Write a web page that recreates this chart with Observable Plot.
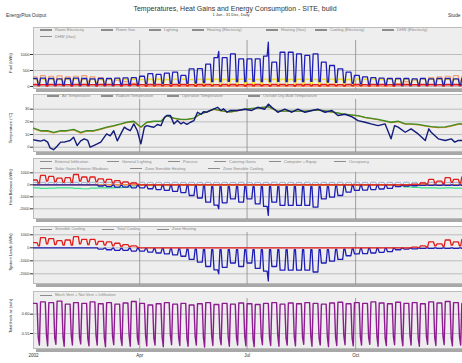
<!DOCTYPE html>
<html><head><meta charset="utf-8">
<script src="https://cdn.jsdelivr.net/npm/d3@7"></script>
<script src="https://cdn.jsdelivr.net/npm/@observablehq/plot@0.6"></script>
<style>
body{margin:0;width:462px;height:363px;overflow:hidden;background:#fff;position:relative;font-family:"Liberation Sans",Arial,sans-serif;color:#333}
.t{position:absolute;white-space:nowrap}
.panel{position:absolute;left:33px;width:440px;background:#eeeeee;border:1px solid #bcbcbc;box-sizing:border-box}
.shadow{position:absolute;left:36px;width:440px;height:3px;background:#a8a8a8}
.leg{position:absolute;font-size:4px;line-height:4px;color:#888;white-space:nowrap}
.legline{position:absolute;height:1.2px;background:#8c8c8c}
.ytitle{position:absolute;font-size:4px;line-height:4px;color:#222;white-space:nowrap;transform:translate(-50%,-50%) rotate(-90deg)}
</style></head>
<body>
<div class="t" style="left:0;width:470px;text-align:center;top:5px;font-size:7px;line-height:7px;color:#333">Temperatures, Heat Gains and Energy Consumption - SITE, build</div>
<div class="t" style="left:0;width:462px;text-align:center;top:12.5px;font-size:4px;line-height:4px">1 Jan - 31 Dec, Daily</div>
<div class="t" style="left:6px;top:13px;font-size:4.8px;line-height:5px">EnergyPlus Output</div>
<div class="t" style="left:448px;top:13px;font-size:4.8px;line-height:5px">Stude</div>
<script>
// ---------- DATA ----------
const year = 2002;
const quarterTicks = ["2002-01-01","2002-04-01","2002-07-01","2002-10-01"];
const quarterLabels = ["2002","Apr","Jul","Oct"];

// Panel 1: Fuel (kWh) — weekly weekday / weekend levels (53 weeks, Mon-Sun; week 0 = 1-6 Jan)
const coolFuelWd = [250,260,250,240,250,260,250,240,250,250,260,270,280,
  320,400,380,420,450,350,550,560,700,900,900,1020,
  865,865,865,950,760,1070,1070,1020,970,1020,760,656,550,450,
  350,300,280,260,250,250,250,240,250,240,250,250,240,250];
const coolFuelWe = [60,70,60,60,65,60,60,70,60,60,65,70,70,
  80,80,90,90,100,100,110,120,
  150,150,160,150,150,160,150,150,160,150,150,150,160,150,140,130,120,100,
  80,70,70,70,60,60,60,60,60,60,60,60,60,60];
const coolFuelPeaks = [["2002-06-07",1094],["2002-07-19",1385]];
const lightWd = [230,225,230,220,230,235,225,230,220,225,230,220,225,220,230,225,220,230,225,220,230,225,230,220,225,230,225,220,230,225,230,220,225,230,220,225,230,225,220,230,225,230,220,225,230,225,220,230,225,230,225,220,230];
const lightWe = [40,45,40,40,45,40,40,45,40,40,45,40,40,45,40,40,45,40,40,45,40,40,45,40,40,45,40,40,45,40,40,45,40,40,45,40,40,45,40,40,45,40,40,45,40,40,45,40,40,45,40,40,45];
const roomElecWd = [60,55,60,60,55,60,60,55,60,60,55,60,60,55,60,60,55,60,60,55,60,60,55,60,60,55,60,60,55,60,60,55,60,60,55,60,60,55,60,60,55,60,60,55,60,60,55,60,60,55,60,60,55];
const roomElecWe = [25,20,25,25,20,25,25,20,25,25,20,25,25,20,25,25,20,25,25,20,25,25,20,25,25,20,25,25,20,25,25,20,25,25,20,25,25,20,25,25,20,25,25,20,25,25,20,25,25,20,25,25,20];
const heatFuelWd = [300,340,320,330,300,320,340,300,280,250,200,150,100,
  0,0,0,0,0,0,0,0,0,0,0,0,0,0,0,0,0,0,0,0,0,0,0,0,0,0,0,0,0,0,0,
  80,150,200,250,280,300,320,340,320];
const heatFuelWe = [120,150,140,130,120,130,150,120,100,90,70,50,30,
  0,0,0,0,0,0,0,0,0,0,0,0,0,0,0,0,0,0,0,0,0,0,0,0,0,0,0,0,0,0,0,
  30,60,80,100,110,120,130,140,130];

// Panel 2: Temperatures (°C) — readings at day-of-year
const outsideDays = [0,3,6,9,12,14,17,20,23,26,29,31,34,37,40,43,46,48,51,54,57,60,62,65,68,71,74,77,79,82,85,88,91,94,96,99,102,105,108,111,113,116,119,122,125,127,130,133,136,139,142,144,147,150,153,156,159,161,164,167,
  173,179,185,190,196,199,202,207,213,219,224,230,236,241,247,253,258,264,270,275,281,286,292,298,303,306,309,315,320,326,332,335,337,343,349,354,357,360,363];
const outsideTemp = [5.8,5.3,4.8,5.8,4,-0.5,-2,0.7,4,4,4.8,5.3,7.9,1.3,5,6.6,5.3,0,1.3,2.6,4,8,10.5,9,13,5,10.5,15.8,14.5,13,18.4,13,2.6,15.8,17,16.3,15.8,17.9,17,23.6,25,25,18.4,21,18.4,19.7,18,19.7,21,27.6,26,28,27.6,29,30.3,31.5,29,30.3,27.6,29,
  29,30,29,31.5,30,34,31.5,27.6,30,27.6,30,27.6,29,30,27.6,29,25,26,24,21,19.7,18.4,17,18.4,6.6,17,15.8,11.8,14.5,10.5,5.3,14.5,11.8,6.6,5.3,6.6,4,5.3,5.3];
const insideDays = [0,6,12,17,23,28,34,40,45,51,57,62,68,74,79,85,91,96,102,108,113,119,125,130,136,141,147,153,158,164,168,179,190,199,207,219,230,241,252,258,264,269,275,281,292,303,309,315,320,326,332,337,343,349,354,360,364];
const airTemp = [15,13,13,11.7,13,13,14,11.7,13,13,14.5,15.8,17,18.4,19.7,20.5,16,19.7,20.5,20.5,25,23,22,22,23,26,28,30,29,28,28,30,31,32,28.5,28.5,28.5,29.5,28,27,26,25.5,25,23.6,22,19.7,20.5,18.4,18.4,18,17,16.3,15.8,16,17,18.4,18.4];
const radiantTemp = [14.6,12.6,12.5,11.2,12.6,12.6,13.6,11.1,12.6,12.6,14.1,15.5,16.7,18.1,19.4,20.2,15.5,19.4,20.3,20.3,24.8,22.8,21.8,21.8,22.8,25.8,27.9,29.9,28.9,27.9,27.9,29.9,30.9,31.8,28.4,28.4,28.4,29.3,27.9,26.8,25.8,25.3,24.8,23.4,21.7,19.4,20.2,18.1,18.1,17.7,16.7,16,15.4,15.6,16.6,18,18];

// Panel 3: Heat balance (kWh) — weekly weekday / weekend levels
const heatSensWd = [400,780,700,550,600,860,650,650,500,450,350,250,150,
  0,0,0,0,0,0,0,0,0,0,0,0,0,0,0,0,0,0,0,0,0,0,0,0,0,0,0,0,0,
  0,0,0,0,50,150,450,300,600,450,650,900];
const heatSensWe = [150,300,250,200,200,300,250,250,200,150,100,80,40,
  0,0,0,0,0,0,0,0,0,0,0,0,0,0,0,0,0,0,0,0,0,0,0,0,0,0,0,0,0,
  0,0,0,0,20,60,150,120,200,150,220,300];
const infiltration = [-250,-300,-280,-260,-250,-300,-330,-280,-260,-250,-230,-200,-100,
  0,0,0,0,0,0,0,0,0,0,0,0,0,0,0,0,0,0,0,0,0,0,0,0,0,0,0,0,0,0,0,
  -100,-180,-220,-250,-260,-280,-250,-270,-280];
const sensCoolWd = [0,0,0,0,0,0,0,0,
  -100,-150,-200,-200,-250,-250,-330,-400,-470,-550,-650,-890,-1100,-1440,-1700,-1500,-1170,-1440,-1170,-1590,-1800,-1440,-1720,-1720,-1720,-1720,-1860,-1170,-1030,-890,-610,-470,-450,-400,-350,-300,-150,-100,-80,
  -50,-50,-50,-50,-50,-50];
const sensCoolWe = [0,0,0,0,0,0,0,0,
  -30,-30,-40,-40,-50,-50,-60,-60,-80,-80,-100,-100,-120,-150,-150,-150,-150,-150,-150,-150,-150,-150,-150,-150,-150,-150,-150,-150,-120,-100,-80,-60,-50,-50,-40,-40,-30,-30,-20,
  -10,-10,-10,-10,-10,-10];
const sensCoolPeaks = [["2002-06-07",-2000],["2002-07-19",-2550]];
const equipWd = [200,210,200,205,200,210,200,205,200,210,200,205,200,210,200,205,200,210,200,205,200,210,200,205,200,210,200,205,200,210,200,205,200,210,200,205,200,210,200,205,200,210,200,205,200,210,200,205,200,210,200,205,200];
const equipWe = [0,0,0,0,0,0,0,0,0,0,0,0,0,0,0,0,0,0,0,0,0,0,0,0,0,0,0,0,0,0,0,0,0,0,0,0,0,0,0,0,0,0,0,0,0,0,0,0,0,0,0,0,0];

// Panel 5: Total fresh air (ach) — weekly weekday / Saturday / Sunday levels
const achWd = [0.628,0.632,0.630,0.634,0.626,0.630,0.628,0.632,0.627,0.630,0.626,0.629,0.633,0.628,0.624,0.627,0.630,0.626,0.628,0.624,0.627,0.630,0.625,0.628,0.626,0.629,0.627,0.625,0.628,0.630,0.626,0.629,0.627,0.630,0.628,0.626,0.629,0.631,0.627,0.630,0.628,0.632,0.629,0.627,0.631,0.628,0.630,0.627,0.632,0.629,0.633,0.630,0.628];
const achSat = [0.540,0.545,0.538,0.542,0.545,0.540,0.538,0.544,0.540,0.542,0.538,0.545,0.540,0.543,0.538,0.541,0.545,0.540,0.538,0.542,0.540,0.544,0.538,0.541,0.540,0.543,0.538,0.542,0.540,0.545,0.538,0.541,0.540,0.543,0.538,0.542,0.540,0.544,0.538,0.541,0.540,0.543,0.538,0.542,0.540,0.545,0.538,0.541,0.540,0.543,0.538,0.542,0.540];
const achSun = [0.520,0.518,0.522,0.517,0.520,0.523,0.518,0.520,0.516,0.521,0.519,0.517,0.522,0.518,0.520,0.516,0.521,0.519,0.517,0.520,0.515,0.519,0.521,0.517,0.520,0.518,0.516,0.521,0.519,0.517,0.520,0.518,0.522,0.517,0.520,0.516,0.519,0.521,0.518,0.520,0.522,0.517,0.519,0.521,0.518,0.520,0.517,0.522,0.519,0.521,0.518,0.520,0.519];

// Legends
const legend1a = ["Room Electricity","Room Gas","Lighting","Heating (Electricity)","Heating (Gas)","Cooling (Electricity)","DHW (Electricity)"];
const legend1b = ["DHW (Gas)"];
const legend2 = ["Air Temperature","Radiant Temperature","Operative Temperature","Outside Dry-Bulb Temperature"];
const legend3a = ["External Infiltration","General Lighting","Process","Catering Gains","Computer + Equip","Occupancy"];
const legend3b = ["Solar Gains Exterior Windows","Zone Sensible Heating","Zone Sensible Cooling"];
const legend4 = ["Sensible Cooling","Total Cooling","Zone Heating"];
const legend5 = ["Mech Vent + Nat Vent + Infiltration"];
const yTitles = ["Fuel (kWh)","Temperature (°C)","Heat Balance (kWh)","System Loads (kWh)","Total fresh air (ach)"];

// ---------- BUILD TABLES ----------
const start = Date.UTC(year,0,1);
const dayDate = i => new Date(start + i*864e5);
const dayIdx = s => Math.round((Date.parse(s) - start)/864e5);
const allDays = d3.range(365);
const weekOf = i => Math.floor((i+1)/7);
function weekly(wd, we, peaks=[]) {
  const pk = new Map(peaks.map(([d,v]) => [dayIdx(d), v]));
  return allDays.map(i => {
    const g = dayDate(i).getUTCDay();
    const w = weekOf(i);
    const v = pk.has(i) ? pk.get(i) : (g===0||g===6 ? we[w] : wd[w]);
    return {date: dayDate(i), value: v};
  });
}
function weekly3(wd, sat, sun) {
  return allDays.map(i => {
    const g = dayDate(i).getUTCDay(), w = weekOf(i);
    return {date: dayDate(i), value: g===6 ? sat[w] : g===0 ? sun[w] : wd[w]};
  });
}
const pts = (ds, vs) => ds.map((d,i) => ({date: dayDate(d), value: vs[i]}));
const flat = arr => allDays.map(i => ({date: dayDate(i), value: arr[weekOf(i)]}));
const qDates = quarterTicks.map(s => new Date(s + "T00:00:00Z"));

// ---------- LAYOUT ----------
function el(cls, style, text) {
  const d = document.createElement("div"); d.className = cls;
  Object.assign(d.style, style); if (text != null) d.textContent = text;
  document.body.appendChild(d); return d;
}
function legendRow(items, xs, y) {
  items.forEach((t, i) => {
    el("legline", {left: (xs[i]-15)+"px", width: "12px", top: (y-0.6)+"px"});
    el("leg", {left: xs[i]+"px", top: (y-2)+"px"}, t);
  });
}
const line = (data, stroke, w=1.2) => Plot.lineY(data, {x: "date", y: "value", stroke, strokeWidth: w, clip: true});

function panel(cfg) {
  const {top, bottom, v1, p1, v2, p2, ticks, legendBottom, marks, fmt, title, titleY, xAxis} = cfg;
  el("panel", {top: top+"px", height: (bottom-top)+"px"});
  el("shadow", {top: bottom+"px"});
  el("ytitle", {left: "11px", top: titleY+"px"}, title);
  const k = (v2 - v1)/(p2 - p1);
  const pv = p => v1 + (p - p1)*k;
  const h = xAxis ? 363 - top : bottom - top;
  const chart = Plot.plot({
    width: 462, height: h,
    marginLeft: 33, marginRight: 0, marginTop: 0, marginBottom: h - (bottom - top),
    x: {type: "utc", domain: [dayDate(0), dayDate(365)], range: [33, 463.7], ...(xAxis ? {} : {axis: null})},
    y: {domain: [pv(bottom), pv(top)], label: null},
    style: {background: "transparent", fontFamily: "Liberation Sans, Arial, sans-serif", color: "#333", overflow: "visible", maxWidth: "none"},
    marks: [
      Plot.gridY(ticks, {stroke: "#a8a8a8", strokeOpacity: 1, strokeWidth: 0.7}),
      Plot.ruleX(qDates.slice(1), {y1: pv(legendBottom), y2: pv(bottom), stroke: "#8a8a8a", strokeWidth: 0.8}),
      ...marks,
      Plot.axisY(ticks, {tickSize: 3, tickPadding: 1, fontSize: 4, label: null, tickFormat: fmt || (d => String(d))}),
      xAxis ? Plot.axisX(qDates, {tickSize: 0, tickPadding: 4.5, fontSize: 4.5, label: null, tickFormat: (d, i) => quarterLabels[i]}) : null
    ]
  });
  chart.style.position = "absolute"; chart.style.left = "0px"; chart.style.top = top + "px";
  document.body.appendChild(chart);
}

// Panel 1
panel({top: 27, bottom: 89, v1: 1000, p1: 54, v2: 0, p2: 86, ticks: [0, 500, 1000], legendBottom: 40,
  title: yTitles[0], titleY: 63,
  marks: [
    line(weekly(heatFuelWd, heatFuelWe), "#f3a070"),
    line(weekly(lightWd, lightWe), "#f0de30", 1.4),
    line(weekly(roomElecWd, roomElecWe), "#e21b1b", 1.6),
    line(weekly(coolFuelWd, coolFuelWe, coolFuelPeaks), "#1e1eb4", 1.3)
  ]});
legendRow(legend1a, [55,116,164,207,281,330,397], 30);
legendRow(legend1b, [55], 36.5);

// Panel 2
panel({top: 94, bottom: 152, v1: 30, p1: 108.7, v2: 0, p2: 146.7, ticks: [0, 10, 20, 30], legendBottom: 99,
  title: yTitles[1], titleY: 128,
  marks: [
    line(pts(insideDays, radiantTemp), "#e8901e"),
    line(pts(insideDays, airTemp), "#3c8c28", 1.3),
    line(pts(outsideDays, outsideTemp), "#121a7a", 1.4)
  ]});
legendRow(legend2, [62,116,182,263], 96);

// Panel 3
panel({top: 158, bottom: 219, v1: 1000, p1: 172.3, v2: -2000, p2: 208.3, ticks: [-2000, -1000, 0, 1000], legendBottom: 172,
  title: yTitles[2], titleY: 187,
  marks: [
    line(weekly(equipWd, equipWe), "#94acd6", 1),
    line(flat(infiltration), "#3ee08a"),
    Plot.ruleY([0], {stroke: "#ef7d22", strokeWidth: 1.2}),
    line(weekly(sensCoolWd, sensCoolWe, sensCoolPeaks), "#1e1eb4", 1.3),
    line(weekly(heatSensWd, heatSensWe), "#e21b1b", 1.3)
  ]});
legendRow(legend3a, [55,122,183,229,284,349], 161.7);
legendRow(legend3b, [55,145,223], 168.5);

// Panel 4
panel({top: 226, bottom: 284, v1: 1000, p1: 234.3, v2: -2000, p2: 273.3, ticks: [-2000, -1000, 0, 1000], legendBottom: 232,
  title: yTitles[3], titleY: 252,
  marks: [
    line(weekly(sensCoolWd, sensCoolWe, sensCoolPeaks), "#1e1eb4", 1.3),
    line(weekly(heatSensWd, heatSensWe), "#e21b1b", 1.3)
  ]});
legendRow(legend4, [55,117,172], 229.3);

// Panel 5
panel({top: 291, bottom: 349, v1: 0.60, p1: 313.7, v2: 0.55, p2: 333, ticks: [0.55, 0.60], legendBottom: 298,
  title: yTitles[4], titleY: 316, fmt: d3.format(".2f"), xAxis: true,
  marks: [
    line(weekly3(achWd, achSat, achSun), "#8c1c90", 1.4)
  ]});
legendRow(legend5, [55], 295.3);
</script>
</body></html>
